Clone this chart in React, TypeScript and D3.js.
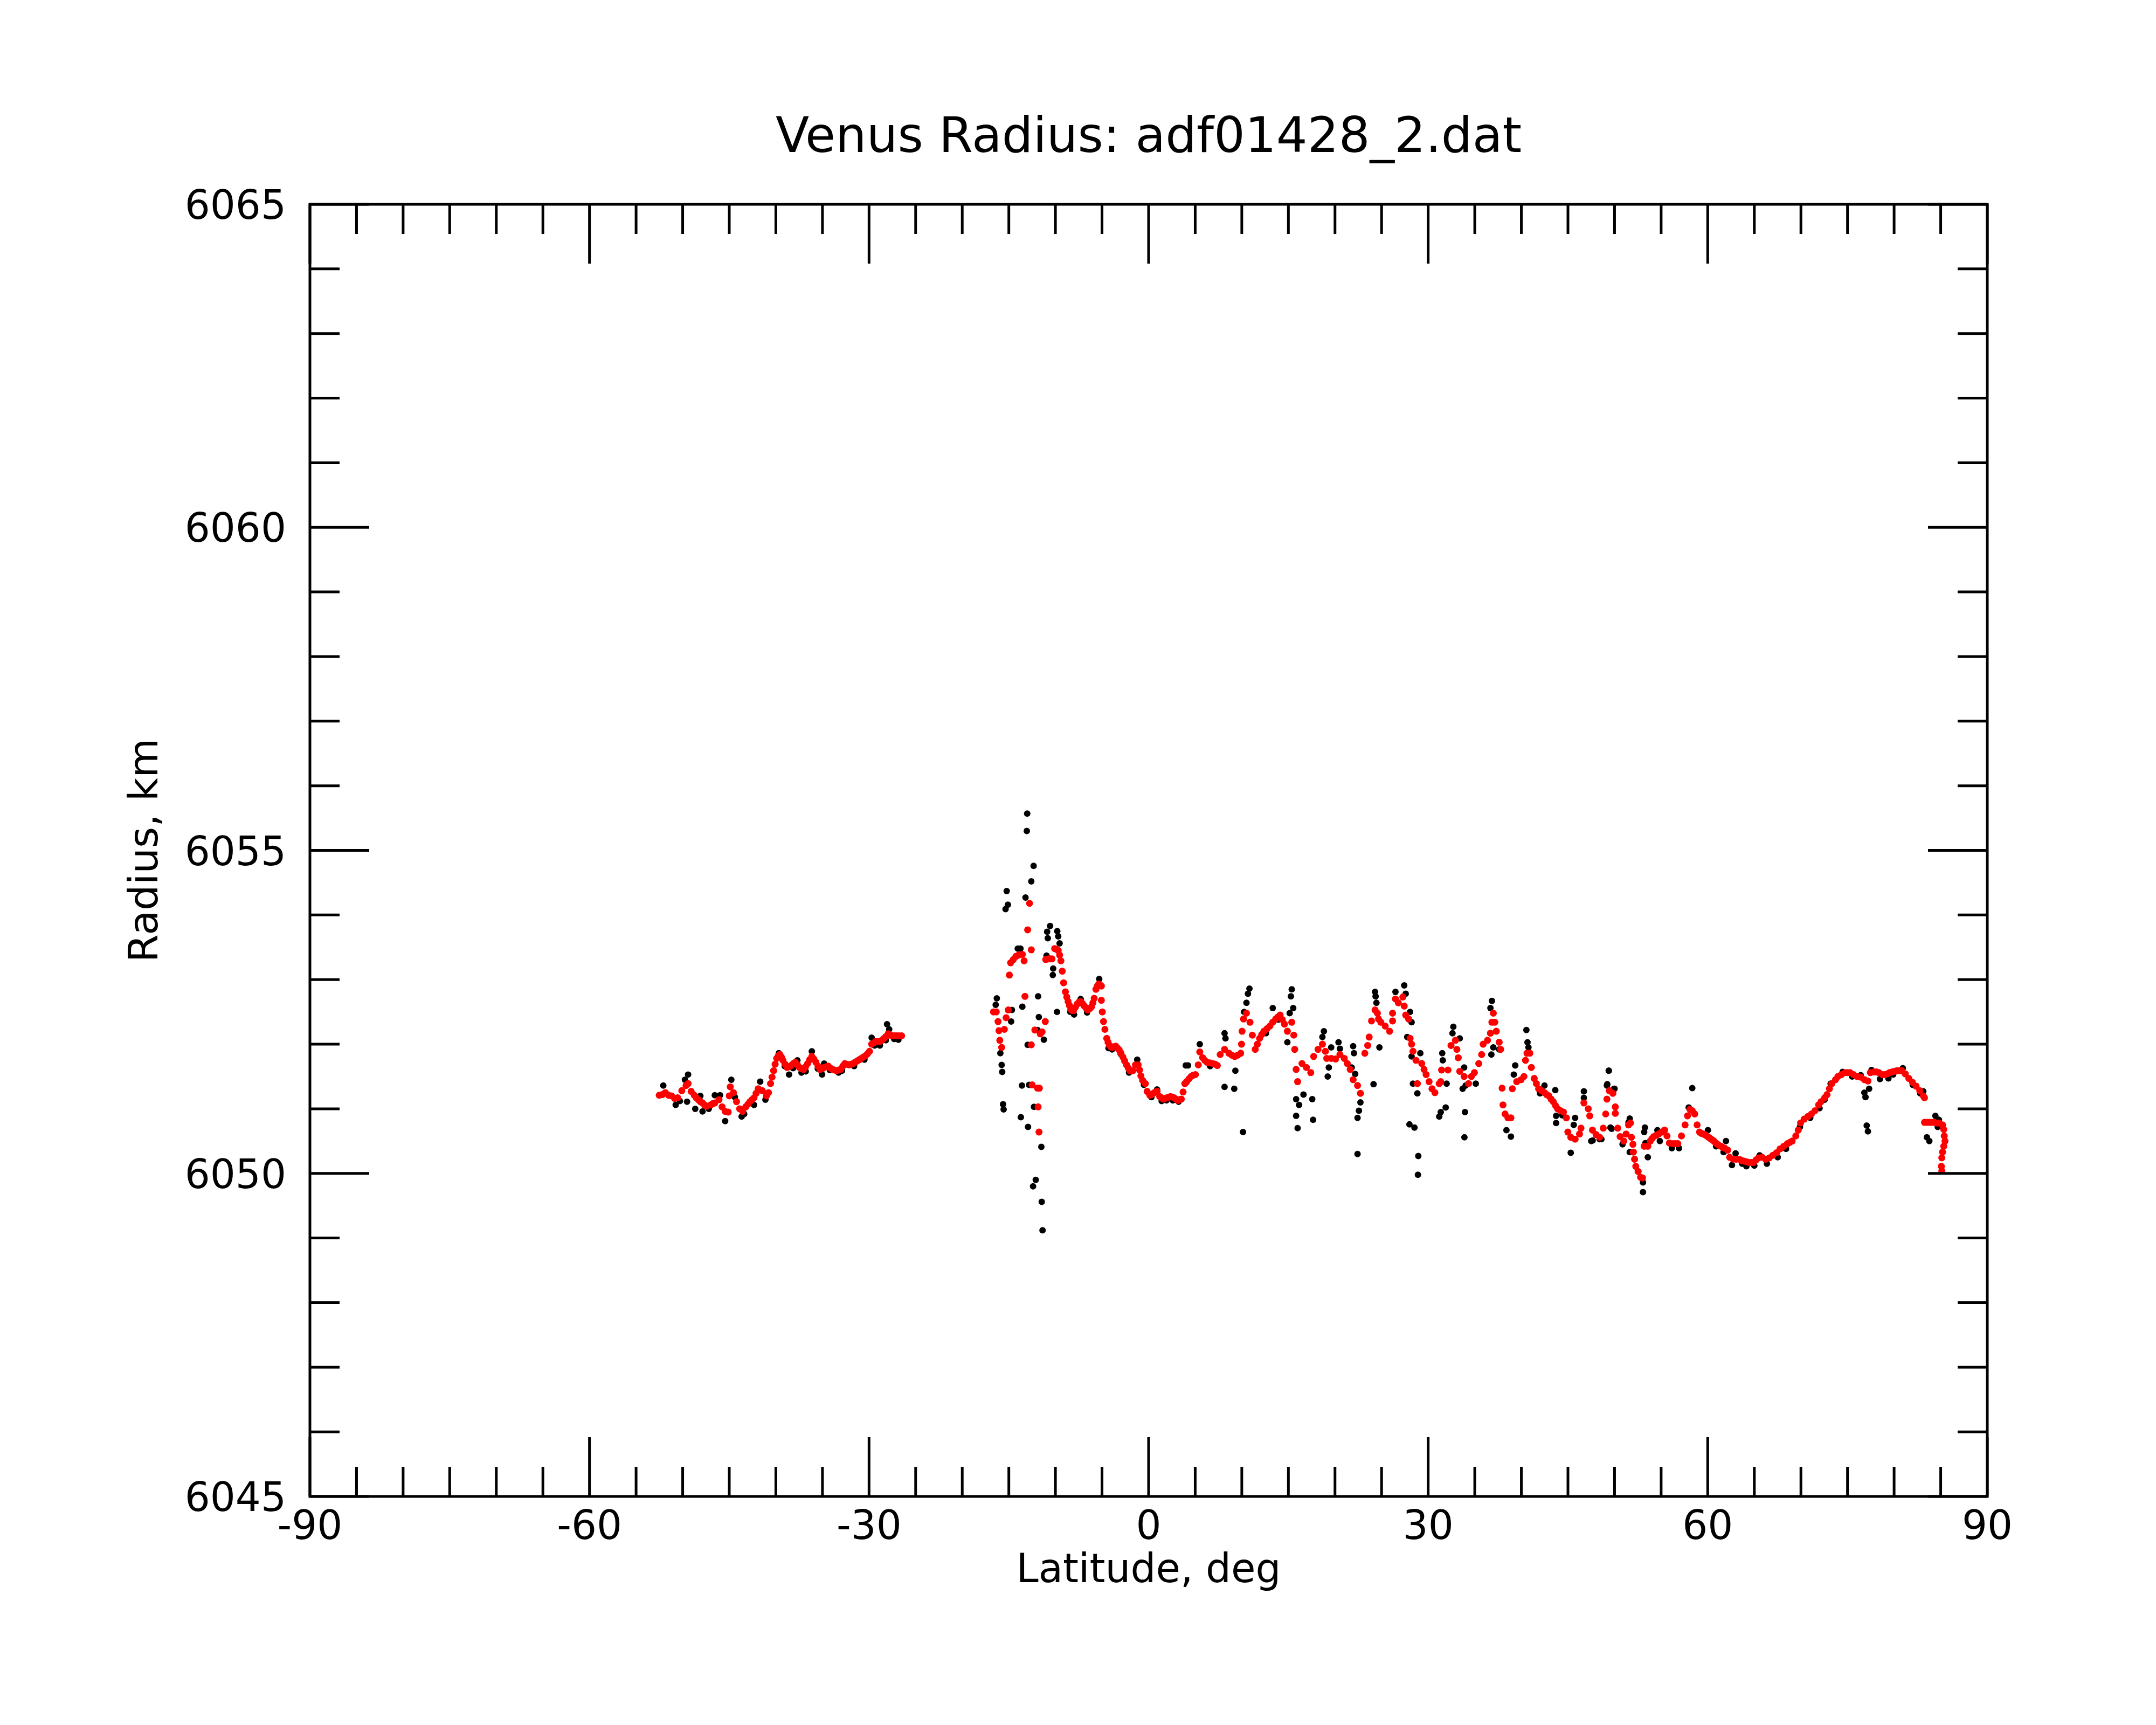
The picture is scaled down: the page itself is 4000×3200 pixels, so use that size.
import React from "react";
import * as d3 from "d3";

const TITLE = "Venus Radius: adf01428_2.dat";
const X_LABEL = "Latitude, deg";
const Y_LABEL = "Radius, km";

const xDomain = [-90, 90];
const yDomain = [6045, 6065];
const xMajorTicks = [-90, -60, -30, 0, 30, 60, 90];
const xTickLabels = ["-90", "-60", "-30", "0", "30", "60", "90"];
const xMinorTicks = d3.range(-90, 91, 5);
const yMajorTicks = [6045, 6050, 6055, 6060, 6065];
const yTickLabels = ["6045", "6050", "6055", "6060", "6065"];
const yMinorTicks = d3.range(6045, 6066, 1);

// smoothed (red) radius, segment south of -26
const redSouth: [number, number][] = [
  [-52.52,6051.21],[-52.19,6051.22],[-51.86,6051.25],[-51.52,6051.21],[-51.19,6051.20],[-50.86,6051.16],[-50.53,6051.17],[-50.09,6051.28],[-49.64,6051.36],[-49.42,6051.39],[-49.09,6051.27],[-48.76,6051.21],[-48.54,6051.17],[-48.32,6051.14],[-48.10,6051.11],[-47.87,6051.09],[-47.65,6051.06],[-47.43,6051.04],[-46.99,6051.06],[-46.77,6051.08],[-46.55,6051.09],[-46.10,6051.14],[-45.77,6051.03],[-45.44,6050.96],[-45.11,6050.95],[-45.00,6051.20],[-44.89,6051.34],[-44.55,6051.25],[-44.22,6051.11],[-43.89,6051.00],[-43.56,6050.96],[-43.23,6051.03],[-43.00,6051.07],[-42.78,6051.11],[-42.56,6051.14],[-42.34,6051.17],[-42.12,6051.24],[-41.90,6051.31],[-41.46,6051.28],[-41.01,6051.20],[-40.79,6051.25],[-40.57,6051.39],[-40.41,6051.49],[-40.24,6051.59],[-40.08,6051.69],[-39.91,6051.78],[-39.74,6051.82],[-39.57,6051.84],[-39.40,6051.80],[-39.24,6051.75],[-39.02,6051.69],[-38.80,6051.64],[-38.58,6051.65],[-38.36,6051.67],[-38.13,6051.70],[-37.91,6051.72],[-37.69,6051.68],[-37.47,6051.64],[-37.25,6051.62],[-37.03,6051.61],[-36.81,6051.65],[-36.59,6051.70],[-36.37,6051.76],[-36.14,6051.81],[-35.92,6051.77],[-35.70,6051.72],[-35.48,6051.66],[-35.26,6051.61],[-35.04,6051.62],[-34.82,6051.64],[-34.60,6051.65],[-34.37,6051.66],[-34.15,6051.63],[-33.93,6051.61],[-33.71,6051.60],[-33.49,6051.59],[-33.27,6051.60],[-33.04,6051.61],[-32.82,6051.66],[-32.60,6051.70],[-32.38,6051.69],[-32.16,6051.68],[-31.94,6051.69],[-31.72,6051.70],[-31.50,6051.72],[-31.27,6051.74],[-31.05,6051.76],[-30.83,6051.78],[-30.61,6051.80],[-30.39,6051.82],[-30.17,6051.85],[-29.95,6051.89],[-29.72,6052.00],[-29.50,6052.02],[-29.28,6052.04],[-29.06,6052.04],[-28.84,6052.04],[-28.62,6052.06],[-28.40,6052.09],[-28.18,6052.12],[-27.95,6052.16],[-27.73,6052.14],[-27.51,6052.13],[-27.29,6052.13],[-27.07,6052.13],[-26.79,6052.13],[-26.51,6052.13],
];

// smoothed (red) radius, segment -17 .. 4
const redEquator: [number, number][] = [
  [-16.64,6052.50],[-16.35,6052.50],[-16.16,6052.35],[-16.06,6052.21],[-15.97,6052.06],[-15.77,6051.95],[-15.48,6052.23],[-15.29,6052.41],[-15.06,6052.53],[-14.94,6053.07],[-14.81,6053.26],[-14.52,6053.31],[-14.23,6053.36],[-13.94,6053.38],[-13.55,6053.39],[-13.36,6053.29],[-13.27,6052.74],[-12.98,6053.77],[-12.78,6054.18],[-12.59,6053.46],[-12.59,6051.99],[-12.50,6051.37],[-12.21,6052.22],[-11.92,6051.32],[-11.72,6051.32],[-11.86,6051.03],[-11.76,6050.64],[-11.63,6052.16],[-11.43,6052.19],[-11.09,6052.35],[-11.04,6053.31],[-10.76,6053.32],[-10.57,6053.32],[-10.37,6053.32],[-10.08,6053.48],[-9.89,6053.47],[-9.70,6053.45],[-9.55,6053.38],[-9.41,6053.29],[-9.27,6053.13],[-9.12,6052.95],[-8.93,6052.81],[-8.78,6052.73],[-8.64,6052.66],[-8.49,6052.60],[-8.35,6052.54],[-8.20,6052.52],[-8.06,6052.52],[-7.86,6052.57],[-7.67,6052.62],[-7.48,6052.65],[-7.29,6052.66],[-7.10,6052.63],[-6.90,6052.59],[-6.71,6052.56],[-6.52,6052.53],[-6.32,6052.55],[-6.13,6052.58],[-5.98,6052.64],[-5.84,6052.71],[-5.65,6052.85],[-5.50,6052.90],[-5.36,6052.93],[-5.22,6052.92],[-5.07,6052.90],[-5.07,6052.68],[-4.97,6052.50],[-4.84,6052.35],[-4.69,6052.23],[-4.49,6052.09],[-4.35,6052.03],[-4.20,6051.98],[-4.06,6051.96],[-3.92,6051.95],[-3.72,6051.96],[-3.53,6051.97],[-3.34,6051.94],[-3.15,6051.91],[-2.96,6051.86],[-2.76,6051.80],[-2.57,6051.74],[-2.37,6051.68],[-2.18,6051.63],[-1.99,6051.59],[-1.70,6051.59],[-1.41,6051.68],[-1.12,6051.68],[-0.97,6051.60],[-0.83,6051.51],[-0.64,6051.44],[-0.35,6051.39],[-0.16,6051.27],[0.13,6051.21],[0.32,6051.22],[0.52,6051.24],[0.71,6051.26],[0.91,6051.27],[1.19,6051.19],[1.38,6051.17],[1.58,6051.15],[1.77,6051.16],[1.97,6051.17],[2.16,6051.18],[2.35,6051.19],[2.55,6051.18],[2.74,6051.17],[2.93,6051.15],[3.12,6051.13],[3.32,6051.14],[3.51,6051.15],[3.70,6051.26],[3.89,6051.39],
];

// smoothed (red) radius, segment 4 .. 47
const redNorth: [number, number][] = [
  [4.08,6051.42],[4.31,6051.46],[4.55,6051.50],[4.78,6051.52],[5.02,6051.53],[5.33,6051.68],[5.49,6051.88],[5.80,6051.79],[6.03,6051.75],[6.27,6051.72],[6.58,6051.71],[6.90,6051.70],[7.13,6051.69],[7.37,6051.67],[7.68,6051.84],[8.15,6051.92],[8.62,6051.86],[8.93,6051.83],[9.25,6051.81],[9.56,6051.83],[9.88,6051.86],[9.97,6052.00],[10.03,6052.20],[10.19,6052.39],[10.50,6052.48],[10.88,6052.34],[11.13,6052.14],[11.44,6051.92],[11.67,6052.00],[11.91,6052.09],[12.14,6052.15],[12.38,6052.20],[12.70,6052.24],[13.01,6052.28],[13.32,6052.34],[13.64,6052.39],[13.87,6052.42],[14.11,6052.45],[14.35,6052.38],[14.58,6052.31],[14.89,6052.20],[15.36,6052.34],[15.58,6052.14],[15.68,6051.92],[15.83,6051.61],[15.99,6051.42],[16.46,6051.70],[16.93,6051.64],[17.40,6051.56],[17.71,6051.81],[18.18,6051.92],[18.65,6052.00],[18.97,6051.89],[19.12,6051.78],[19.59,6051.78],[20.06,6051.77],[20.53,6051.84],[21.00,6051.78],[21.32,6051.70],[21.63,6051.61],[21.95,6051.45],[22.42,6051.36],[22.73,6051.24],[23.20,6051.86],[23.51,6051.98],[23.67,6052.11],[23.92,6052.36],[24.30,6052.53],[24.55,6052.48],[24.67,6052.39],[24.92,6052.34],[25.39,6052.28],[25.86,6052.20],[26.18,6052.48],[26.18,6052.36],[26.49,6052.70],[26.80,6052.64],[27.28,6052.73],[27.43,6052.59],[27.59,6052.45],[27.90,6052.39],[28.06,6052.09],[28.22,6052.00],[28.37,6051.89],[28.69,6051.75],[28.84,6051.39],[29.31,6051.70],[29.56,6051.61],[29.78,6051.53],[30.10,6051.42],[30.41,6051.31],[30.72,6051.25],[31.19,6051.39],[31.35,6051.42],[31.44,6051.60],[32.13,6051.60],[32.45,6051.98],[32.92,6052.06],[33.08,6051.92],[33.23,6051.79],[33.39,6051.58],[33.86,6051.50],[34.33,6051.39],[34.64,6051.50],[34.96,6051.56],[35.43,6051.70],[35.74,6051.84],[35.90,6052.00],[36.37,6052.06],[36.68,6052.17],[36.84,6052.34],[36.99,6052.48],[37.15,6052.34],[37.31,6052.20],[37.62,6052.03],[37.78,6051.92],[37.93,6051.32],[38.03,6051.06],[38.25,6050.92],[38.56,6050.86],[38.88,6050.86],[39.03,6051.31],[39.50,6051.42],[39.97,6051.45],[40.28,6051.50],[40.44,6051.75],[40.60,6051.86],[40.91,6051.86],[41.07,6051.64],[41.38,6051.47],[41.61,6051.39],[41.85,6051.31],[42.17,6051.28],[42.48,6051.25],[42.72,6051.22],[42.95,6051.20],[43.19,6051.15],[43.42,6051.11],[43.66,6051.05],[43.89,6051.00],[44.21,6050.97],[44.52,6050.95],[44.83,6050.86],[44.99,6050.64],[45.30,6050.56],[45.77,6050.53],[46.24,6050.61],[46.40,6050.70],[46.71,6051.09],[47.18,6051.00],[47.34,6050.89],
];

// smoothed (red) radius, segment 47 .. 86
const redPolar: [number, number][] = [
  [47.63,6050.67],[48.02,6050.60],[48.40,6050.56],[48.79,6050.70],[49.05,6050.92],[49.18,6051.15],[49.44,6051.28],[49.82,6051.24],[50.08,6051.03],[50.08,6050.93],[50.34,6050.70],[50.60,6050.57],[50.99,6050.50],[51.24,6050.61],[51.50,6050.75],[51.71,6050.78],[51.81,6050.56],[51.97,6050.45],[52.02,6050.33],[52.15,6050.22],[52.28,6050.11],[52.53,6050.03],[52.79,6049.94],[53.00,6049.93],[53.18,6050.42],[53.57,6050.42],[53.83,6050.50],[54.02,6050.54],[54.21,6050.57],[54.47,6050.59],[54.73,6050.61],[55.05,6050.64],[55.37,6050.67],[55.63,6050.58],[55.89,6050.47],[56.28,6050.46],[56.54,6050.46],[56.79,6050.46],[57.18,6050.58],[57.57,6050.75],[57.83,6050.89],[58.09,6050.99],[58.34,6050.97],[58.60,6050.92],[58.86,6050.75],[59.12,6050.64],[59.31,6050.62],[59.51,6050.61],[59.70,6050.60],[59.89,6050.58],[60.08,6050.56],[60.28,6050.54],[60.47,6050.52],[60.67,6050.50],[60.86,6050.47],[61.06,6050.45],[61.25,6050.43],[61.44,6050.42],[61.64,6050.40],[61.83,6050.39],[62.14,6050.36],[62.35,6050.25],[62.73,6050.22],[63.05,6050.22],[63.38,6050.22],[63.64,6050.20],[63.90,6050.19],[64.16,6050.18],[64.41,6050.17],[64.67,6050.17],[64.93,6050.17],[65.19,6050.21],[65.45,6050.24],[65.83,6050.25],[66.22,6050.22],[66.61,6050.24],[66.99,6050.28],[67.38,6050.32],[67.77,6050.38],[68.16,6050.42],[68.54,6050.46],[68.80,6050.48],[69.06,6050.50],[69.45,6050.58],[69.71,6050.67],[69.96,6050.78],[70.35,6050.84],[70.74,6050.88],[71.13,6050.92],[71.51,6050.97],[71.90,6051.06],[72.16,6051.11],[72.55,6051.17],[72.80,6051.22],[73.06,6051.31],[73.32,6051.39],[73.71,6051.45],[73.97,6051.50],[74.35,6051.53],[74.74,6051.56],[75.00,6051.56],[75.26,6051.56],[75.64,6051.53],[76.03,6051.50],[76.42,6051.49],[76.81,6051.45],[77.19,6051.43],[77.45,6051.56],[77.84,6051.57],[78.10,6051.57],[78.36,6051.56],[78.74,6051.53],[79.00,6051.53],[79.26,6051.54],[79.52,6051.56],[79.78,6051.57],[80.03,6051.58],[80.29,6051.59],[80.55,6051.59],[80.81,6051.59],[81.20,6051.54],[81.58,6051.47],[81.97,6051.41],[82.36,6051.35],[82.75,6051.28],[83.13,6051.20],[83.26,6051.17],[83.26,6050.79],[83.52,6050.79],[83.78,6050.79],[84.04,6050.79],[84.30,6050.79],[84.55,6050.78],[84.81,6050.78],[85.20,6050.75],[85.33,6050.68],[85.38,6050.58],[85.46,6050.50],[85.33,6050.42],[85.20,6050.33],[85.12,6050.24],[85.07,6050.11],[85.12,6050.04],
];

// raw (black) radius samples that show around / away from the smoothed curve
const blackSouth: [number, number][] = [
  [-52.08,6051.36],[-50.75,6051.06],[-49.76,6051.45],[-49.42,6051.53],[-49.53,6051.11],[-48.65,6051.00],[-48.10,6051.20],[-47.87,6050.96],[-46.55,6051.21],[-45.99,6051.21],[-45.44,6050.81],[-44.78,6051.45],[-43.67,6050.88],[-42.34,6051.06],[-41.68,6051.42],[-41.12,6051.14],[-39.68,6051.86],[-38.58,6051.53],[-37.69,6051.75],[-37.25,6051.56],[-36.14,6051.89],[-35.04,6051.53],[-34.82,6051.70],[-33.27,6051.56],[-29.72,6052.10],[-28.84,6051.98],[-28.07,6052.31],[-27.84,6052.23],[-26.85,6052.07],
  [-50.30,6051.12],[-47.20,6051.00],[-44.40,6051.18],[-43.40,6050.92],[-39.05,6051.66],[-38.15,6051.63],[-36.80,6051.58],[-35.50,6051.62],[-34.20,6051.60],[-32.90,6051.59],[-31.60,6051.66],[-30.50,6051.76],[-29.40,6051.98],[-28.20,6052.06],[-27.30,6052.08],
];

const blackEquator: [number, number][] = [
  [-13.03,6055.57],[-13.07,6055.30],[-12.34,6054.76],[-12.59,6054.52],[-15.23,6054.37],[-15.10,6054.16],[-15.35,6054.09],[-13.21,6054.27],[-10.57,6053.83],[-10.89,6053.74],[-9.80,6053.75],[-10.82,6053.64],[-9.70,6053.67],[-9.55,6053.56],[-14.04,6053.48],[-13.75,6053.48],[-16.29,6052.71],[-16.41,6052.61],[-14.67,6052.53],[-13.55,6052.58],[-11.86,6052.74],[-11.78,6052.42],[-14.75,6052.35],[-15.91,6051.86],[-15.77,6051.68],[-15.71,6051.57],[-13.59,6051.36],[-15.62,6051.07],[-15.56,6050.99],[-13.71,6050.87],[-12.94,6050.72],[-11.51,6050.41],[-12.11,6049.90],[-12.40,6049.80],[-11.47,6049.56],[-11.38,6049.12],[-9.83,6052.50],[-10.24,6053.17],[-10.28,6053.07],[-10.95,6053.37],[-11.92,6052.22],[-11.24,6052.07],[-12.98,6051.99],[-12.30,6051.03],[-12.82,6051.37],[-8.00,6052.46],[-7.29,6052.70],[-5.30,6053.01],[-1.22,6051.76],[-3.92,6051.92],[0.91,6051.30],[1.91,6051.13],[3.22,6051.11],[3.99,6051.67],
  [-8.40,6052.50],[-6.60,6052.49],[-4.30,6051.94],[-3.00,6051.85],[-2.10,6051.56],[-0.50,6051.37],[0.30,6051.18],[1.40,6051.12],[2.60,6051.13],
];

const blackNorth: [number, number][] = [
  [10.82,6052.86],[10.66,6052.78],[10.50,6052.64],[10.25,6052.50],[15.36,6052.85],[15.27,6052.74],[15.52,6052.56],[15.14,6052.48],[13.32,6052.56],[14.89,6052.03],[8.15,6052.17],[8.25,6052.09],[5.49,6052.00],[4.23,6051.67],[9.31,6051.59],[8.15,6051.34],[9.19,6051.31],[10.13,6050.64],[18.81,6052.20],[18.65,6052.11],[19.59,6051.95],[20.38,6052.03],[20.53,6051.93],[19.34,6051.64],[19.22,6051.50],[21.95,6051.97],[22.04,6051.86],[21.79,6051.64],[22.17,6051.54],[24.14,6051.38],[24.77,6051.95],[24.30,6052.81],[24.36,6052.74],[24.45,6052.64],[26.49,6052.81],[27.43,6052.91],[27.59,6052.78],[28.06,6052.50],[28.22,6052.34],[27.75,6052.11],[28.22,6051.81],[29.16,6051.86],[28.37,6051.39],[28.84,6051.24],[27.99,6050.76],[28.53,6050.71],[28.94,6050.27],[28.90,6049.98],[22.42,6050.86],[22.57,6050.97],[22.73,6051.10],[22.42,6050.30],[15.83,6051.15],[16.15,6051.06],[15.83,6050.89],[15.99,6050.70],[16.62,6051.22],[17.56,6051.15],[17.65,6050.83],[31.19,6050.88],[31.35,6050.95],[31.88,6051.02],[31.51,6051.86],[31.57,6051.75],[31.98,6051.39],[32.70,6052.27],[32.61,6052.17],[33.39,6052.09],[33.86,6051.64],[34.02,6051.36],[33.70,6051.31],[33.95,6050.95],[33.89,6050.56],[35.11,6051.39],[36.84,6052.67],[36.68,6052.56],[36.99,6051.95],[36.78,6051.84],[37.62,6051.92],[38.40,6050.67],[38.88,6050.57],[39.34,6051.67],[39.19,6051.53],[40.54,6052.22],[40.66,6052.03],[40.76,6051.95],[42.48,6051.36],[43.64,6051.29],[43.73,6050.89],[43.73,6050.78],[45.30,6050.32],[45.77,6050.86],[45.62,6050.75],[46.71,6051.27],[46.71,6051.17],[47.65,6050.51],[48.59,6050.53],[49.38,6051.59],[49.22,6051.38],[49.69,6050.69],[50.00,6051.31],
  [6.60,6051.66],[12.60,6052.17],[13.90,6052.38],[42.00,6051.24],[44.40,6050.90],
];

const blackPolar: [number, number][] = [
  [49.38,6051.59],[49.18,6051.36],[49.95,6051.31],[49.56,6050.71],[47.50,6050.50],[48.40,6050.53],[51.63,6050.85],[51.50,6050.79],[50.86,6050.45],[51.63,6050.33],[53.05,6049.86],[53.05,6049.71],[53.26,6050.71],[53.18,6050.64],[53.57,6050.25],[53.31,6050.47],[54.60,6050.67],[54.86,6050.50],[56.15,6050.39],[56.92,6050.39],[58.34,6051.32],[57.96,6051.02],[58.60,6050.92],[60.02,6050.67],[61.96,6050.50],[61.70,6050.33],[62.60,6050.13],[62.99,6050.31],[64.15,6050.11],[65.57,6050.28],[66.35,6050.15],[67.51,6050.25],[73.19,6051.39],[72.55,6051.14],[74.48,6051.57],[76.42,6051.52],[77.58,6051.60],[78.48,6051.46],[79.39,6051.47],[80.94,6051.63],[83.13,6051.27],[76.81,6051.25],[77.32,6051.31],[76.93,6051.18],[77.06,6050.74],[77.19,6050.65],[83.52,6050.56],[83.78,6050.50],[84.43,6050.89],[84.81,6050.83],[84.68,6050.72],
  [60.90,6050.42],[63.70,6050.15],[65.00,6050.12],[68.40,6050.38],[69.90,6050.72],[71.00,6050.86],[72.00,6051.01],[75.50,6051.50],[79.90,6051.53],[82.00,6051.37],[82.80,6051.24],
];

const W = 4000;
const H = 3200;
const PLOT = { left: 575, right: 3687, top: 379, bottom: 2776 };

export default function App() {
  const x = d3.scaleLinear().domain(xDomain).range([PLOT.left, PLOT.right]);
  const y = d3.scaleLinear().domain(yDomain).range([PLOT.bottom, PLOT.top]);
  const font = "'DejaVu Sans', sans-serif";
  const black = [...blackSouth, ...blackEquator, ...blackNorth, ...blackPolar];
  const red = [...redSouth, ...redEquator, ...redNorth, ...redPolar];
  const major = 110;
  const minor = 55;
  const sw = 5;
  const cx = (PLOT.left + PLOT.right) / 2;
  const cy = (PLOT.top + PLOT.bottom) / 2;

  return (
    <svg width={W} height={H} viewBox={`0 0 ${W} ${H}`}
      style={{ position: "absolute", left: 0, top: 0, background: "#fff" }}>
      <rect x={0} y={0} width={W} height={H} fill="#fff" />
      <text x={cx} y={282} textAnchor="middle" fontFamily={font} fontSize={91} fill="#000">{TITLE}</text>

      <g>
        {black.map((d, i) => (
          <circle key={"b" + i} cx={x(d[0])} cy={y(d[1])} r={6} fill="#000" />
        ))}
        {red.map((d, i) => (
          <circle key={"r" + i} cx={x(d[0])} cy={y(d[1])} r={6.5} fill="#ff0000" />
        ))}
      </g>

      <g stroke="#000" strokeWidth={sw} fill="none">
        {xMinorTicks.map((t) => {
          const len = xMajorTicks.includes(t) ? major : minor;
          return (
            <g key={"xt" + t}>
              <line x1={x(t)} x2={x(t)} y1={PLOT.bottom} y2={PLOT.bottom - len} />
              <line x1={x(t)} x2={x(t)} y1={PLOT.top} y2={PLOT.top + len} />
            </g>
          );
        })}
        {yMinorTicks.map((t) => {
          const len = yMajorTicks.includes(t) ? major : minor;
          return (
            <g key={"yt" + t}>
              <line x1={PLOT.left} x2={PLOT.left + len} y1={y(t)} y2={y(t)} />
              <line x1={PLOT.right} x2={PLOT.right - len} y1={y(t)} y2={y(t)} />
            </g>
          );
        })}
        <rect x={PLOT.left} y={PLOT.top} width={PLOT.right - PLOT.left} height={PLOT.bottom - PLOT.top} />
      </g>

      <g fontFamily={font} fontSize={74} fill="#000">
        {xMajorTicks.map((t, i) => (
          <text key={"xl" + t} x={x(t)} y={PLOT.bottom + 79} textAnchor="middle">{xTickLabels[i]}</text>
        ))}
        {yMajorTicks.map((t, i) => (
          <text key={"yl" + t} x={531} y={y(t) + 27} textAnchor="end">{yTickLabels[i]}</text>
        ))}
      </g>

      <text x={cx} y={2935} textAnchor="middle" fontFamily={font} fontSize={74} fill="#000">{X_LABEL}</text>
      <text transform={`translate(292,${cy}) rotate(-90)`} textAnchor="middle" fontFamily={font} fontSize={75} fill="#000">{Y_LABEL}</text>
    </svg>
  );
}
